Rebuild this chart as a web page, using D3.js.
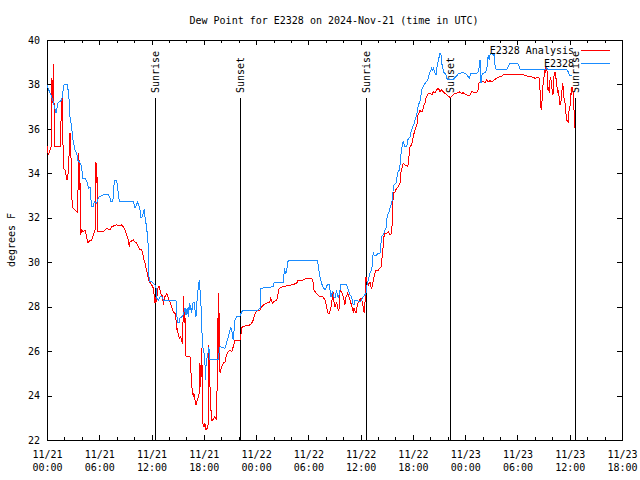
<!DOCTYPE html>
<html><head><meta charset="utf-8">
<script src="https://cdn.jsdelivr.net/npm/d3@7"></script>
<style>
body{margin:0;background:#fff}
svg{display:block}
text{font-family:"DejaVu Sans Mono",monospace;font-size:10px;fill:#000}
</style></head><body>
<svg id="c" width="640" height="480"></svg>
<script>
// ---------------- data ----------------
const chartTitle = "Dew Point for E2328 on 2024-Nov-21 (time in UTC)";
const yAxisLabel = "degrees F";
const seriesNames = ["E2328 Analysis", "E2328"];
const startUTC = Date.UTC(2024, 10, 21, 0, 0);   // 11/21 00:00 UTC
const endHours = 66;                              // 11/23 18:00 UTC
const yTickValues = [22, 24, 26, 28, 30, 32, 34, 36, 38, 40];
const xMajorHours = [0, 6, 12, 18, 24, 30, 36, 42, 48, 54, 60, 66];
const eventHours = [12.43, 22.19, 36.58, 46.22, 60.60];
const eventLabels = ["Sunrise", "Sunset", "Sunrise", "Sunset", "Sunrise"];

// E2328 Analysis (hours since start, deg F)
const analysisHours = [0,0.15,0.34,0.46,0.54,0.57,0.65,0.72,0.80,0.88,
1.57,1.64,1.76,1.80,1.87,2.07,2.30,2.44,2.56,2.64,
2.72,2.79,2.87,2.95,3.21,3.48,3.56,3.64,3.71,3.75,
3.82,3.87,3.98,4.17,4.36,4.56,4.63,4.74,4.94,5.13,
5.31,5.51,5.62,5.70,5.77,5.82,6.46,6.66,6.85,7.04,
7.23,7.43,8.00,8.38,8.57,8.76,8.95,9.07,9.22,9.33,
9.45,9.53,9.91,10.10,10.30,10.48,10.67,10.87,10.98,11.13,
11.25,11.36,11.51,11.63,11.74,11.90,12.13,12.20,12.28,12.40,
12.51,12.59,12.66,12.78,12.89,13.05,13.16,13.28,13.35,13.43,
13.54,13.74,13.92,14.12,14.31,14.50,14.69,14.81,14.89,14.96,
15.07,15.19,15.35,15.46,15.58,15.65,15.69,15.73,15.76,15.84,
15.92,16.41,16.49,16.61,16.72,16.79,16.87,16.99,17.10,17.25,
17.37,17.48,17.56,17.60,17.68,17.76,17.79,17.87,18.02,18.13,
18.25,18.40,18.51,18.59,18.63,18.71,18.79,18.86,19.02,19.28,
19.48,19.55,19.63,19.66,19.70,19.74,19.78,19.86,20.05,20.24,
20.43,20.55,20.70,20.81,21.00,21.20,21.38,21.50,21.58,22.15,
22.23,22.35,22.73,23.30,23.49,23.68,23.76,23.88,24.07,24.45,
24.64,24.83,25.21,25.59,25.67,25.90,25.98,26.36,26.48,26.55,
26.66,27.12,28.09,28.66,28.78,29.42,29.81,30.38,30.50,30.57,
30.65,30.88,31.14,31.33,31.64,31.91,31.99,32.10,32.22,32.29,
32.40,32.56,32.68,32.75,32.86,32.94,33.06,33.25,33.32,33.44,
33.56,33.63,33.71,34.01,34.09,34.20,34.28,34.51,34.70,34.89,
35.09,35.16,35.24,35.47,35.55,35.66,35.85,35.93,36.04,36.24,
36.31,36.39,36.47,36.53,36.61,36.76,36.88,37.07,37.15,37.27,
37.38,37.45,37.65,37.76,38.03,38.22,38.34,38.42,38.53,38.60,
38.68,38.80,38.99,39.18,39.37,39.48,39.56,39.63,39.68,39.75,
39.94,40.14,40.32,40.52,40.60,40.71,40.83,40.90,41.09,41.40,
41.48,41.55,41.59,41.67,41.86,41.97,42.05,42.13,42.24,42.36,
42.51,42.59,42.74,42.81,42.93,43.04,43.12,43.19,43.27,43.39,
43.50,43.58,43.65,43.77,43.96,44.16,44.27,44.34,44.54,44.73,
44.91,45.03,45.11,45.30,45.49,45.68,45.88,46.06,46.26,46.45,
46.64,46.83,47.21,47.40,47.60,47.78,47.98,48.17,48.36,48.55,
48.67,48.75,49.32,49.50,49.58,49.70,50.08,50.27,50.47,50.65,
50.85,51.04,51.23,51.42,51.62,51.80,51.99,52.19,52.38,52.57,
52.76,53.91,54.67,55.06,55.44,55.82,56.01,56.39,56.51,56.59,
56.67,56.78,56.85,56.97,57.05,57.13,57.20,57.27,57.35,57.42,
57.50,57.58,57.65,57.73,57.81,57.92,58.04,58.11,58.19,58.31,
58.42,58.50,58.62,58.69,58.80,58.88,58.96,59.08,59.15,59.26,
59.34,59.46,59.57,59.65,59.83,59.91,60.03,60.11,60.18,60.26,
60.34,60.41,60.49,60.57];
const analysisValues = [35.23,34.82,35.05,35.19,37.17,38.29,37.17,38.92,37.30,35.19,
35.19,37.30,37.44,36.54,34.24,34.15,33.70,34.02,35.05,35.82,
35.50,33.93,32.80,32.44,32.35,32.26,33.25,34.92,33.25,34.60,
32.80,31.23,31.45,31.37,31.45,31.15,30.92,30.88,31.00,31.00,
31.23,31.45,34.52,33.55,33.85,31.37,31.37,31.45,31.53,31.48,
31.45,31.60,31.68,31.63,31.68,31.60,31.45,31.30,31.15,31.00,
30.70,30.92,31.00,30.92,30.85,30.70,30.58,30.55,30.40,30.10,
29.95,29.73,29.50,29.28,29.12,29.05,28.90,28.83,28.60,28.15,
28.45,28.22,28.67,28.90,28.90,28.60,28.52,28.45,28.07,28.30,
28.45,28.60,28.38,28.22,28.00,27.77,27.70,27.40,26.95,27.03,
26.73,26.58,26.65,26.42,26.35,28.48,27.40,27.85,27.25,27.55,
25.78,25.75,25.30,24.48,24.10,23.95,24.10,23.80,23.58,23.80,
23.95,24.10,25.45,24.40,24.85,26.13,25.45,22.75,22.60,22.75,
22.45,22.53,22.75,26.28,25.00,24.40,23.80,22.90,22.90,23.05,
22.90,25.45,27.55,28.60,26.35,25.90,27.70,25.00,25.30,25.45,
25.52,25.75,25.90,25.97,26.05,25.97,26.20,26.35,26.50,26.50,
26.65,27.07,27.13,27.18,27.25,27.40,27.55,27.67,27.82,27.85,
28.00,28.07,28.15,28.22,28.38,28.15,28.22,28.30,28.45,28.67,
28.83,28.90,28.98,29.05,29.17,29.20,29.28,29.28,29.20,28.98,
28.75,28.60,28.52,28.45,28.45,28.30,28.22,27.93,27.77,27.67,
27.70,27.93,28.07,28.52,28.67,28.22,28.00,28.22,28.00,27.85,
27.93,28.67,28.75,28.45,28.30,28.07,28.38,28.60,28.38,28.15,
27.85,27.77,27.93,27.70,27.93,28.15,28.30,28.22,28.38,28.15,
27.93,27.77,27.70,28.60,29.35,29.05,28.98,29.12,28.90,28.83,
28.98,29.20,29.50,29.65,29.65,29.73,29.80,30.10,30.40,30.85,
31.15,31.30,31.30,31.37,31.23,31.23,31.45,31.75,32.50,33.10,
33.17,33.33,33.40,33.55,34.00,34.15,34.38,34.45,34.38,34.30,
34.45,34.75,35.05,35.20,35.28,35.50,35.65,35.80,35.95,36.10,
36.25,36.63,36.77,36.85,36.77,36.77,36.85,36.93,37.08,37.15,
37.38,37.45,37.53,37.60,37.60,37.53,37.60,37.67,37.63,37.75,
37.83,37.75,37.67,37.75,37.67,37.60,37.53,37.48,37.42,37.45,
37.53,37.60,37.63,37.67,37.60,37.63,37.56,37.53,37.48,37.53,
37.63,37.67,37.63,37.78,38.05,38.12,38.12,38.08,38.20,38.12,
38.17,38.12,38.17,38.23,38.28,38.32,38.35,38.38,38.43,38.46,
38.47,38.46,38.43,38.38,38.35,38.32,38.28,38.32,38.28,37.75,
37.00,36.85,37.60,38.12,38.35,38.57,38.50,38.80,38.65,38.57,
37.75,37.90,37.60,38.20,38.35,37.98,37.53,37.60,38.35,38.57,
38.28,38.05,37.60,37.75,37.38,37.08,37.15,37.45,38.05,37.90,
37.38,37.15,36.70,36.40,36.32,36.77,37.00,37.60,37.53,37.90,
37.75,37.60,36.85,36.03];

// E2328 observed (hours since start, deg F)
const stationHours = [0,0.11,0.54,0.65,1.03,1.26,1.69,1.95,2.33,2.47,
2.56,2.64,2.84,2.95,3.10,3.21,3.41,3.52,3.79,3.98,
4.10,4.36,4.56,4.67,4.74,4.94,5.02,5.13,5.31,5.43,
5.70,5.89,6.00,6.46,7.04,7.23,7.35,7.54,7.61,7.69,
7.81,8.00,8.07,8.18,8.30,9.91,10.10,10.41,10.67,10.79,
10.98,11.05,11.17,11.28,11.44,11.51,11.63,11.66,11.74,12.02,
12.40,12.51,12.59,12.78,12.97,13.20,13.35,13.74,14.81,14.89,
14.96,15.19,15.27,15.58,15.73,15.84,15.95,16.10,16.22,16.33,
16.41,16.49,16.61,16.72,16.87,16.99,17.10,17.18,17.25,17.37,
17.48,17.56,17.64,17.71,17.79,17.87,18.02,18.13,18.22,18.25,
18.33,18.51,18.59,18.63,19.66,19.74,19.86,20.43,20.55,20.70,
20.81,21.00,21.09,21.20,21.31,21.38,21.58,21.77,22.15,22.35,
22.53,23.68,24.07,24.25,24.45,24.53,24.56,25.98,26.06,27.12,
27.20,27.24,27.40,27.51,27.58,27.70,31.02,31.14,31.25,31.41,
31.64,31.91,32.17,32.40,32.60,32.75,32.94,33.06,33.25,33.32,
33.44,33.63,33.71,34.40,34.58,34.78,34.97,35.09,35.24,35.35,
35.93,36.12,36.31,36.61,36.69,36.88,37.07,37.27,37.38,37.45,
37.57,37.84,38.03,38.22,38.30,38.42,38.68,38.80,38.91,38.99,
39.10,39.29,39.37,39.56,39.68,39.75,39.86,40.06,40.14,40.21,
40.44,40.52,40.60,40.71,40.78,40.90,41.09,41.29,41.40,41.67,
41.78,41.97,42.16,42.24,42.43,42.50,42.62,42.81,42.93,43.01,
43.19,43.39,43.70,43.77,43.88,44.08,44.16,44.27,44.34,44.54,
44.65,44.73,44.80,45.11,45.22,45.30,45.42,45.49,45.68,45.80,
45.88,46.06,46.64,47.03,47.21,47.78,47.98,48.17,48.36,48.47,
48.55,48.63,49.32,49.50,49.62,49.70,49.78,49.81,49.89,49.96,
50.27,50.47,50.54,50.65,50.77,50.85,50.93,51.23,51.31,51.34,
51.42,51.54,51.80,52.76,52.95,53.07,53.91,54.10,54.21,54.29,
57.27,57.35,57.42,59.65,59.83,59.95,60.22];
const stationValues = [37.97,37.84,37.44,37.30,36.72,37.17,37.30,37.98,37.98,37.62,
37.17,36.54,36.04,35.59,35.28,35.05,34.92,34.60,34.47,34.29,
33.79,33.79,33.62,33.55,33.33,33.37,32.95,32.50,32.50,32.72,
32.65,32.88,32.95,33.03,33.03,32.88,32.72,32.72,32.95,33.48,
33.70,33.67,33.48,33.10,32.72,32.72,32.44,32.71,32.38,31.98,
32.05,32.27,32.35,31.90,31.60,31.23,30.70,29.65,29.12,29.12,
28.97,28.84,28.39,28.30,28.45,28.45,28.30,28.26,28.26,27.77,
27.27,27.27,27.49,27.58,27.77,27.94,27.63,27.94,27.55,28.16,
27.85,28.08,27.71,28.16,28.22,27.85,27.55,28.00,28.45,28.90,
29.20,28.75,28.45,27.71,26.82,26.20,25.91,25.47,24.70,25.30,
25.60,25.97,26.20,25.60,25.63,25.91,26.20,26.13,26.28,26.50,
26.65,26.95,27.04,26.95,26.65,26.50,27.40,27.55,27.58,27.77,
27.85,27.85,27.82,27.85,27.93,28.30,28.83,28.90,29.08,29.08,
29.43,29.73,29.50,29.57,29.88,30.10,30.10,29.88,29.50,29.20,
28.90,28.75,28.98,28.98,28.45,28.67,28.45,28.38,28.75,28.53,
28.38,28.75,28.98,28.98,28.75,28.53,28.45,28.15,28.07,28.30,
28.22,28.30,28.45,28.60,28.90,29.20,29.50,29.65,30.10,30.47,
30.28,30.33,30.40,30.40,30.70,31.15,31.30,31.45,31.53,31.90,
32.13,32.27,32.43,32.65,32.95,33.40,33.48,33.55,33.70,34.00,
34.15,34.38,34.83,34.97,35.35,35.42,35.20,35.20,35.50,35.65,
35.87,36.10,36.25,36.40,36.63,36.77,37.08,37.22,37.53,37.75,
37.90,38.05,38.20,38.28,38.50,38.65,38.73,38.65,38.73,38.50,
38.43,38.65,38.88,39.40,39.33,38.95,38.80,38.57,38.50,38.43,
38.28,38.20,38.23,38.38,38.50,38.53,38.50,38.43,38.35,38.30,
38.38,38.50,38.50,38.57,38.80,39.10,38.65,38.05,38.35,38.50,
38.53,38.65,38.95,39.33,39.10,39.33,39.40,39.33,39.40,39.18,
38.88,38.68,38.68,38.68,38.80,38.92,38.95,38.92,38.80,38.68,
38.68,38.80,38.68,38.68,38.57,38.43,38.38];

// ---------------- drawing ----------------
const W = 640, H = 480;
const plot = {left: 47, right: 622, top: 40, bottom: 440};
const colors = ["#ff0000", "#1a8cff"];
const font = "DejaVu Sans Mono, monospace";
const HOUR = 3600e3;
const toDate = h => new Date(startUTC + h * HOUR);

const svg = d3.select("#c");
svg.append("rect").attr("width", W).attr("height", H).attr("fill", "#fff");

const x = d3.scaleUtc().domain([toDate(0), toDate(endHours)]).range([plot.left, plot.right]);
const y = d3.scaleLinear().domain([22, 40]).range([plot.bottom, plot.top]);

const majorDates = xMajorHours.map(toDate);
const minorDates = d3.range(0, endHours + 1, 2).filter(h => h % 6 !== 0).map(toDate);

function styleAxis(g) {
  g.attr("font-family", font).attr("font-size", 10);
  g.select(".domain").remove();
  g.selectAll(".tick line").attr("stroke", "#000").attr("shape-rendering", "crispEdges");
}

// bottom major axis with two-line labels
const fmtDay = d3.utcFormat("%m/%d"), fmtTime = d3.utcFormat("%H:%M");
const gxb = svg.append("g").attr("transform", `translate(0,${plot.bottom})`)
  .call(d3.axisBottom(x).tickValues(majorDates).tickSizeInner(-5).tickSizeOuter(0));
styleAxis(gxb);
gxb.selectAll(".tick text").attr("y", null).attr("dy", null).text(null).attr("fill", "#000")
  .each(function(d) {
    const t = d3.select(this);
    t.append("tspan").attr("x", 0).attr("y", 18).text(fmtDay(d));
    t.append("tspan").attr("x", 0).attr("y", 31).text(fmtTime(d));
  });
// bottom minor ticks
styleAxis(svg.append("g").attr("transform", `translate(0,${plot.bottom})`)
  .call(d3.axisBottom(x).tickValues(minorDates).tickSizeInner(-3).tickSizeOuter(0).tickFormat("")));
// top major + minor ticks
styleAxis(svg.append("g").attr("transform", `translate(0,${plot.top})`)
  .call(d3.axisTop(x).tickValues(majorDates).tickSizeInner(-5).tickSizeOuter(0).tickFormat("")));
styleAxis(svg.append("g").attr("transform", `translate(0,${plot.top})`)
  .call(d3.axisTop(x).tickValues(minorDates).tickSizeInner(-3).tickSizeOuter(0).tickFormat("")));
// left axis
const gyl = svg.append("g").attr("transform", `translate(${plot.left},0)`)
  .call(d3.axisLeft(y).tickValues(yTickValues).tickSizeInner(-5).tickSizeOuter(0).tickPadding(7).tickFormat(d3.format("d")));
styleAxis(gyl);
gyl.selectAll(".tick text").attr("fill", "#000");
// right axis ticks
styleAxis(svg.append("g").attr("transform", `translate(${plot.right},0)`)
  .call(d3.axisRight(y).tickValues(yTickValues).tickSizeInner(-5).tickSizeOuter(0).tickFormat("")));

// border
svg.append("rect").attr("x", plot.left).attr("y", plot.top)
  .attr("width", plot.right - plot.left).attr("height", plot.bottom - plot.top)
  .attr("fill", "none").attr("stroke", "#000").attr("shape-rendering", "crispEdges");

// sunrise / sunset markers
const ev = svg.append("g");
eventHours.forEach((h, i) => {
  const ex = Math.round(x(toDate(h))) + 0.5;
  ev.append("line").attr("x1", ex).attr("x2", ex).attr("y1", 98).attr("y2", plot.bottom)
    .attr("stroke", "#000").attr("shape-rendering", "crispEdges");
  ev.append("text").attr("transform", `translate(${ex},93) rotate(-90)`)
    .attr("dy", "0.35em").attr("text-anchor", "start").text(eventLabels[i]);
});

// data lines
const line = d3.line().x(d => x(d.t)).y(d => y(d.v));
const series = [
  analysisHours.map((h, i) => ({t: toDate(h), v: analysisValues[i]})),
  stationHours.map((h, i) => ({t: toDate(h), v: stationValues[i]}))
];
series.forEach((s, i) => {
  svg.append("path").datum(s).attr("d", line).attr("fill", "none")
    .attr("stroke", colors[i]).attr("stroke-width", 1).attr("stroke-linejoin", "miter")
    .attr("shape-rendering", "crispEdges");
});

// legend
series.forEach((s, i) => {
  const ly = 50 + i * 13;
  svg.append("text").attr("x", 574).attr("y", ly).attr("dy", "0.35em")
    .attr("text-anchor", "end").text(seriesNames[i]);
  svg.append("line").attr("x1", 581).attr("x2", 610).attr("y1", ly + 0.5).attr("y2", ly + 0.5)
    .attr("stroke", colors[i]).attr("shape-rendering", "crispEdges");
});

// title and axis label
svg.append("text").attr("x", 334).attr("y", 24).attr("text-anchor", "middle").text(chartTitle);
svg.append("text").attr("transform", "translate(11,240) rotate(-90)").attr("dy", "0.35em")
  .attr("text-anchor", "middle").text(yAxisLabel);
</script>
</body></html>
